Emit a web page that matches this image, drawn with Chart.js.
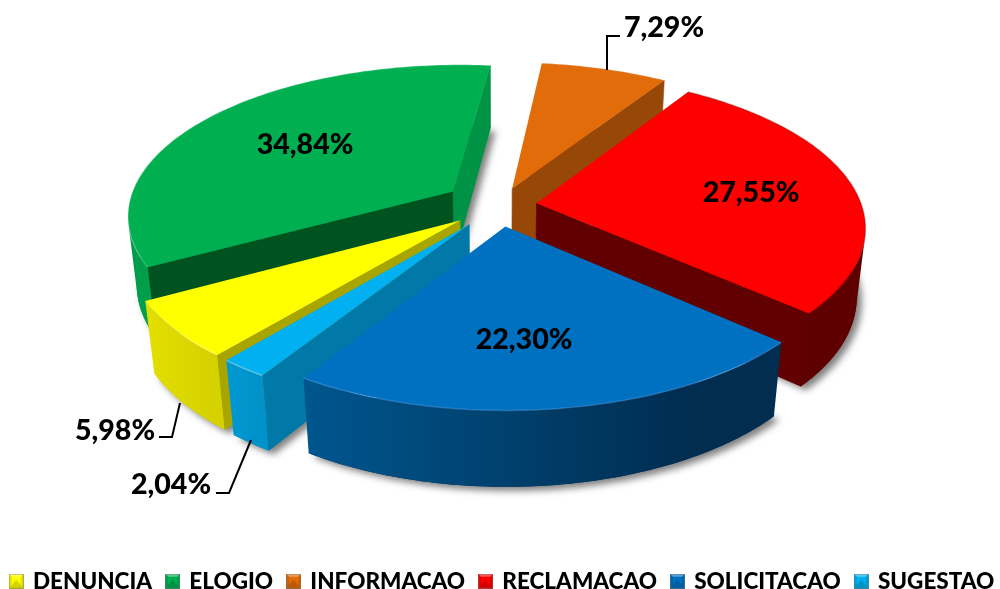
<!DOCTYPE html>
<html><head><meta charset="utf-8">
<script src="https://cdn.jsdelivr.net/npm/chart.js@4/dist/chart.umd.min.js"></script>
<style>html,body{margin:0;padding:0;background:#fff;overflow:hidden}canvas{display:block}</style>
</head><body><canvas id="c" width="1000" height="589"></canvas>
<script>
// ---- data
const categories = ['DENUNCIA','ELOGIO','INFORMACAO','RECLAMACAO','SOLICITACAO','SUGESTAO'];
const shares = [5.98,34.84,7.29,27.55,22.30,2.04];
// ---- styles
const topColors  = ['#FFFF00','#00B050','#E26B0A','#FF0000','#0070C0','#00B0F0'];
const startWalls = ['#A8A400','#00521F','#974706','#600000','#003A66','#0079A8'];
const endWalls   = ['#A8A400','#009245','#974706','#600000','#003A66','#0079A8'];
const outerWalls = [['#E3DF00','#D6D200'],['#009A4A','#00A04C'],['#974706','#974706'],['#5E0000','#5E0000'],['#00568F','#002D50'],['#0098D2','#0092C8']];
const rimColors  = ['rgba(255,255,255,.2)','rgba(255,255,255,.18)','rgba(255,255,255,.15)','rgba(120,0,0,.35)','rgba(120,190,255,.3)','rgba(170,230,255,.45)'];
const explode    = [50,56,40,38,45,50];
const labelSpots = [[115,431],[305,145],[664,28],[751,193],[524,340],[171,485]];
const leaders    = [[[180,403],[172,437],[159,437]],null,[[607,70],[607,36],[620,36]],null,null,[[251,440],[229,493],[216,493]]];
// ---- view
const CX=499, CY=205.5, R=325, K=0.46, P=0.15, Q=0.11, H=70;
function project(u,v,z){
  const w=1-P*v/R+Q*z/R;
  return [CX+u/w, CY+(K*v+z)/w];
}
function poly(ctx,pts){ctx.beginPath();pts.forEach((p,i)=>i?ctx.lineTo(p[0],p[1]):ctx.moveTo(p[0],p[1]));ctx.closePath();}
function area(pts){let s=0;pts.forEach((p,i)=>{const q=pts[(i+1)%pts.length];s+=p[0]*q[1]-q[0]*p[1];});return s;}
function bevelIcon(color){
  const c=document.createElement('canvas');c.width=15;c.height=15;const x=c.getContext('2d');
  x.fillStyle=color;x.fillRect(0,0,15,15);
  x.fillStyle='rgba(255,255,255,.35)';poly(x,[[0,0],[15,0],[12,3],[3,3]]);x.fill();
  x.fillStyle='rgba(0,0,0,.17)';poly(x,[[0,15],[15,15],[7.5,6]]);x.fill();
  x.fillStyle='rgba(0,0,0,.1)';poly(x,[[0,0],[3,3],[3,12],[0,15]]);x.fill();poly(x,[[15,0],[12,3],[12,12],[15,15]]);x.fill();
  x.strokeStyle='rgba(120,120,120,.5)';x.lineWidth=1;x.strokeRect(.5,.5,14,14);
  return c;
}
const pie3d={
  id:'pie3d',
  afterLayout(chart){
    const lg=chart.legend;
    lg.maxWidth=1400;lg.fit();
    const lw=lg.lineWidths[0];
    lg.left=-200;lg.right=lw+6.5+200;
    lg.top=581-11-lg.options.labels.padding;
    lg.bottom=lg.top+lg.height;
  },
  beforeDatasetDraw(chart){
    const ctx=chart.ctx, arcs=chart.getDatasetMeta(0).data;
    const items=arcs.map((a,i)=>{
      const mid=(a.startAngle+a.endAngle)/2, off=a.options.offset;
      return {i,a0:a.startAngle,a1:a.endAngle,ou:Math.cos(mid)*off,ov:Math.sin(mid)*off,mid};
    }).sort((p,q)=>Math.sin(p.mid)-Math.sin(q.mid));
    ctx.save();
    items.forEach(s=>{
      const pt=(ang,r,z)=>project(s.ou+r*Math.cos(ang),s.ov+r*Math.sin(ang),z);
      const n=Math.max(8,Math.ceil((s.a1-s.a0)/0.02));
      const angs=[];for(let k=0;k<=n;k++)angs.push(s.a0+(s.a1-s.a0)*k/n);
      const topArc=angs.map(a=>pt(a,R,0)), botArc=angs.map(a=>pt(a,R,H));
      const apexT=pt(0,0,0), apexB=pt(0,0,H);
      // drop shadow from the base
      ctx.save();
      ctx.shadowColor='rgba(0,0,0,.5)';ctx.shadowBlur=7;ctx.shadowOffsetX=5;ctx.shadowOffsetY=4;
      ctx.fillStyle=outerWalls[s.i][1];
      poly(ctx,[apexB,...botArc]);ctx.fill();
      ctx.restore();
      // flat walls
      const wall=(t0,t1,b1,b0,col)=>{const q=[t0,t1,b1,b0];if(area(q)<0){ctx.fillStyle=col;poly(ctx,q);ctx.fill();ctx.strokeStyle=col;ctx.lineWidth=.6;ctx.stroke();}};
      wall(apexT,topArc[0],botArc[0],apexB,startWalls[s.i]);
      wall(topArc[n],apexT,apexB,botArc[n],endWalls[s.i]);
      // rim wall
      let from=-1,to=-1;
      for(let k=0;k<n;k++){
        if(area([topArc[k],topArc[k+1],botArc[k+1],botArc[k]])<0){if(from<0)from=k;to=k+1;}
      }
      if(from>=0){
        const t=topArc.slice(from,to+1), b=botArc.slice(from,to+1).reverse();
        const xs=t.concat(b).map(p=>p[0]);
        const g=ctx.createLinearGradient(Math.min(...xs),0,Math.max(...xs),0);
        const st=outerWalls[s.i];
        g.addColorStop(0,st[0]);g.addColorStop(.8,st[1]);g.addColorStop(1,st[1]);
        ctx.fillStyle=g;poly(ctx,t.concat(b));ctx.fill();
      }
      // top face
      ctx.fillStyle=topColors[s.i];
      poly(ctx,[apexT,...topArc]);ctx.fill();
      // rim highlight
      ctx.strokeStyle=rimColors[s.i];ctx.lineWidth=1.5;
      ctx.beginPath();topArc.forEach((p,k)=>k?ctx.lineTo(p[0],p[1]):ctx.moveTo(p[0],p[1]));ctx.stroke();
    });
    // leader lines
    ctx.strokeStyle='#000';ctx.lineWidth=2;
    leaders.forEach(l=>{if(!l)return;ctx.beginPath();l.forEach((p,k)=>k?ctx.lineTo(p[0],p[1]):ctx.moveTo(p[0],p[1]));ctx.stroke();});
    // value labels
    ctx.fillStyle='#000';ctx.font='900 28.6px Lato';ctx.textAlign='center';ctx.textBaseline='middle';
    shares.forEach((v,i)=>ctx.fillText(v.toFixed(2).replace('.',',')+'%',labelSpots[i][0],labelSpots[i][1]));
    ctx.restore();
    return false;
  }
};
new Chart(document.getElementById('c'),{
  type:'pie',
  data:{labels:categories,datasets:[{data:shares,backgroundColor:topColors,offset:explode,borderWidth:0,rotation:219.5}]},
  options:{
    responsive:false,animation:false,
    plugins:{
      tooltip:{enabled:false},
      legend:{position:'bottom',labels:{
        usePointStyle:true,boxWidth:11,boxHeight:15,padding:15,color:'#000',
        font:{family:'Lato',weight:'900',size:22.5},
        generateLabels:()=>categories.map((t,i)=>({text:t,pointStyle:bevelIcon(topColors[i]),fontColor:'#000',hidden:false,index:i,lineWidth:0,strokeStyle:'transparent'}))
      }}
    }
  },
  plugins:[pie3d]
});
</script></body></html>
